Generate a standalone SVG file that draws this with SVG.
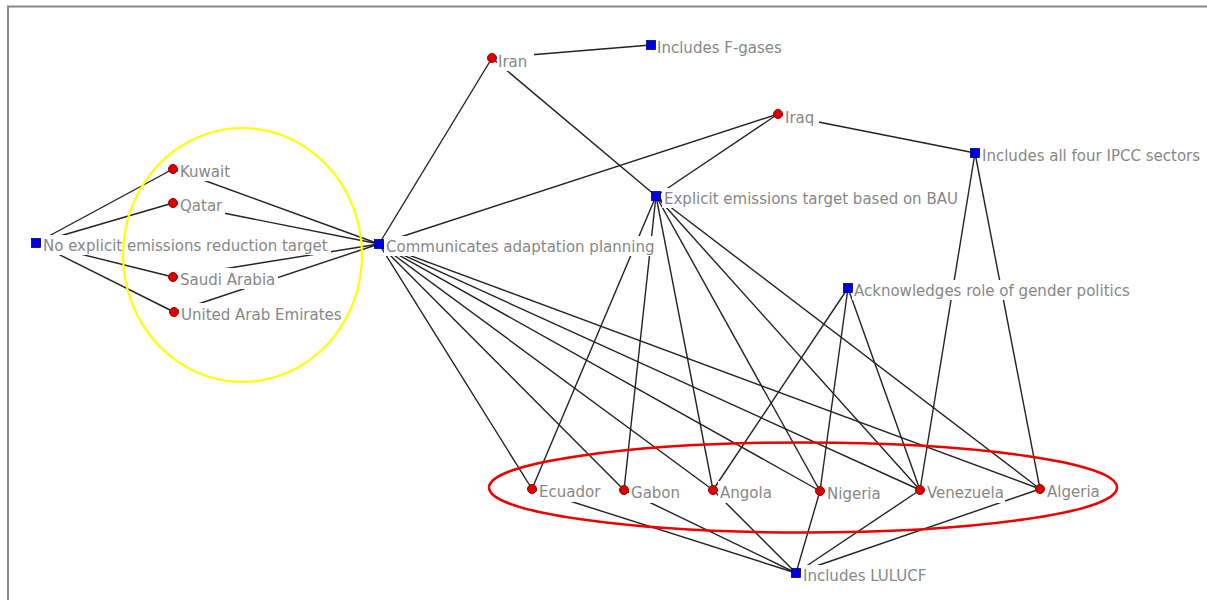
<svg xmlns="http://www.w3.org/2000/svg" width="1207" height="600" viewBox="0 0 1207 600">
<style>
.e{stroke:#222222;stroke-width:1.4;fill:none}
.c{fill:#d90000;stroke:#a00000;stroke-width:1}
.s{fill:#0000dc;stroke:#00008a;stroke-width:0.8}
.bg{fill:#ffffff}
.t{font-family:"DejaVu Sans Condensed","DejaVu Sans",sans-serif;font-size:16.7px;fill:#878787}
</style>
<rect x="0" y="0" width="1207" height="600" fill="#ffffff"/>
<path d="M8,600 V6.5 H1207" stroke="#8a8a8a" stroke-width="2" fill="none"/>
<g id="connectors">
<line class="e" x1="36" y1="243" x2="173" y2="169"/>
<line class="e" x1="36" y1="243" x2="173" y2="203"/>
<line class="e" x1="36" y1="243" x2="173" y2="277"/>
<line class="e" x1="36" y1="243" x2="174" y2="312"/>
<line class="e" x1="173" y1="169" x2="379" y2="244"/>
<line class="e" x1="173" y1="203" x2="379" y2="244"/>
<line class="e" x1="173" y1="277" x2="379" y2="244"/>
<line class="e" x1="174" y1="312" x2="379" y2="244"/>
<line class="e" x1="379" y1="244" x2="492" y2="58"/>
<line class="e" x1="379" y1="244" x2="778" y2="114"/>
<line class="e" x1="379" y1="244" x2="532" y2="489"/>
<line class="e" x1="379" y1="244" x2="624" y2="490"/>
<line class="e" x1="379" y1="244" x2="713" y2="490"/>
<line class="e" x1="379" y1="244" x2="820" y2="491"/>
<line class="e" x1="379" y1="244" x2="920" y2="490"/>
<line class="e" x1="379" y1="244" x2="1040" y2="489"/>
<line class="e" x1="492" y1="58" x2="651" y2="45"/>
<line class="e" x1="492" y1="58" x2="656" y2="196"/>
<line class="e" x1="778" y1="114" x2="656" y2="196"/>
<line class="e" x1="778" y1="114" x2="975" y2="153"/>
<line class="e" x1="656" y1="196" x2="532" y2="489"/>
<line class="e" x1="656" y1="196" x2="624" y2="490"/>
<line class="e" x1="656" y1="196" x2="713" y2="490"/>
<line class="e" x1="656" y1="196" x2="820" y2="491"/>
<line class="e" x1="656" y1="196" x2="920" y2="490"/>
<line class="e" x1="656" y1="196" x2="1040" y2="489"/>
<line class="e" x1="975" y1="153" x2="920" y2="490"/>
<line class="e" x1="975" y1="153" x2="1040" y2="489"/>
<line class="e" x1="848" y1="288" x2="713" y2="490"/>
<line class="e" x1="848" y1="288" x2="820" y2="491"/>
<line class="e" x1="848" y1="288" x2="920" y2="490"/>
<line class="e" x1="796" y1="573" x2="532" y2="489"/>
<line class="e" x1="796" y1="573" x2="624" y2="490"/>
<line class="e" x1="796" y1="573" x2="713" y2="490"/>
<line class="e" x1="796" y1="573" x2="820" y2="491"/>
<line class="e" x1="796" y1="573" x2="920" y2="490"/>
<line class="e" x1="796" y1="573" x2="1040" y2="489"/>
</g>
<g id="n-noexplicit"><rect class="bg" x="41" y="235" width="290" height="20"/><rect class="s" x="31.5" y="238.5" width="9" height="9"/><text class="t" x="43" y="251">No explicit emissions reduction target</text></g>
<g id="n-kuwait"><rect class="bg" x="178" y="160" width="56" height="21"/><circle class="c" cx="173" cy="169" r="4.5"/><text class="t" x="180" y="177">Kuwait</text></g>
<g id="n-qatar"><rect class="bg" x="178" y="194" width="47" height="21"/><circle class="c" cx="173" cy="203" r="4.5"/><text class="t" x="180" y="211">Qatar</text></g>
<g id="n-saudi"><rect class="bg" x="178" y="268" width="100" height="21"/><circle class="c" cx="173" cy="277" r="4.5"/><text class="t" x="180" y="285">Saudi Arabia</text></g>
<g id="n-uae"><rect class="bg" x="179" y="303" width="166" height="21"/><circle class="c" cx="174" cy="312" r="4.5"/><text class="t" x="181" y="320">United Arab Emirates</text></g>
<g id="n-comm"><rect class="bg" x="384" y="236" width="273" height="20"/><rect class="s" x="374.5" y="239.5" width="9" height="9"/><text class="t" x="386" y="252">Communicates adaptation planning</text></g>
<g id="n-iran"><rect class="bg" x="497" y="50" width="37" height="21"/><circle class="c" cx="492" cy="58" r="4.5"/><text class="t" x="498" y="67">Iran</text></g>
<g id="n-fgases"><rect class="bg" x="655" y="37" width="133" height="20"/><rect class="s" x="646.5" y="40.5" width="9" height="9"/><text class="t" x="657" y="53">Includes F-gases</text></g>
<g id="n-iraq"><rect class="bg" x="783" y="106" width="36" height="21"/><circle class="c" cx="778" cy="114" r="4.5"/><text class="t" x="785" y="123">Iraq</text></g>
<g id="n-ipcc"><rect class="bg" x="980" y="145" width="227" height="20"/><rect class="s" x="970.5" y="148.5" width="9" height="9"/><text class="t" x="982" y="161">Includes all four IPCC sectors</text></g>
<g id="n-bau"><rect class="bg" x="662" y="188" width="297" height="20"/><rect class="s" x="651.5" y="191.5" width="9" height="9"/><text class="t" x="664" y="204">Explicit emissions target based on BAU</text></g>
<g id="n-gender"><rect class="bg" x="852" y="280" width="286" height="20"/><rect class="s" x="843.5" y="283.5" width="9" height="9"/><text class="t" x="854" y="296">Acknowledges role of gender politics</text></g>
<g id="n-ecuador"><rect class="bg" x="537" y="480" width="66" height="22"/><circle class="c" cx="532" cy="489" r="4.5"/><text class="t" x="539" y="497">Ecuador</text></g>
<g id="n-gabon"><rect class="bg" x="629" y="481" width="54" height="22"/><circle class="c" cx="624" cy="490" r="4.5"/><text class="t" x="631" y="498">Gabon</text></g>
<g id="n-angola"><rect class="bg" x="718" y="481" width="56" height="22"/><circle class="c" cx="713" cy="490" r="4.5"/><text class="t" x="720" y="498">Angola</text></g>
<g id="n-nigeria"><rect class="bg" x="825" y="482" width="59" height="22"/><circle class="c" cx="820" cy="491" r="4.5"/><text class="t" x="827" y="499">Nigeria</text></g>
<g id="n-venezuela"><rect class="bg" x="925" y="481" width="80" height="22"/><circle class="c" cx="920" cy="490" r="4.5"/><text class="t" x="927" y="498">Venezuela</text></g>
<g id="n-algeria"><rect class="bg" x="1045" y="480" width="59" height="22"/><circle class="c" cx="1040" cy="489" r="4.5"/><text class="t" x="1047" y="497">Algeria</text></g>
<g id="n-lulucf"><rect class="bg" x="801" y="565" width="143" height="20"/><rect class="s" x="791.5" y="568.5" width="9" height="9"/><text class="t" x="803" y="581">Includes LULUCF</text></g>
<g id="highlights" fill="none">
<ellipse cx="242.5" cy="255" rx="119.5" ry="127" stroke="#ffff00" stroke-width="2.2"/>
<ellipse cx="803" cy="487.5" rx="314" ry="45" stroke="#ee0000" stroke-width="2.5"/>
</g>
</svg>
